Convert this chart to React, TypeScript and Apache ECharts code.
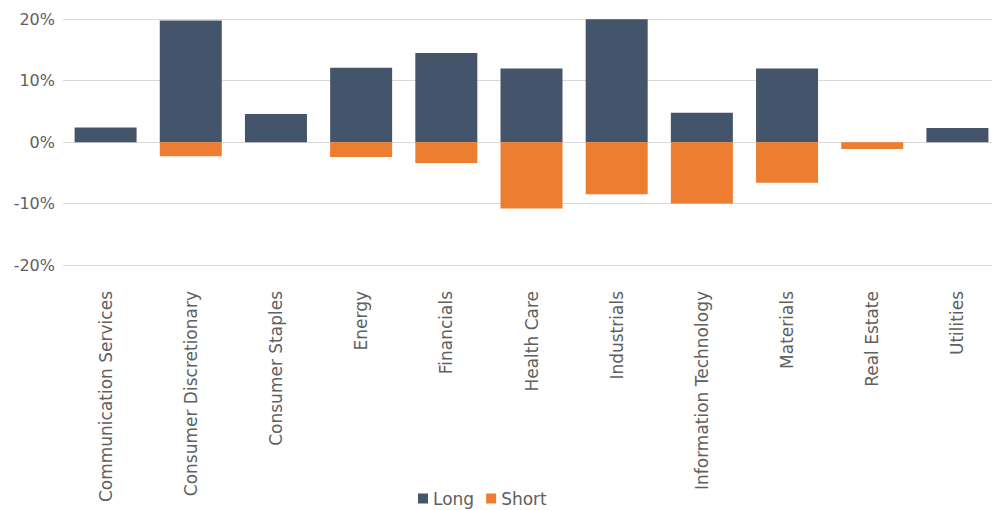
import React, { useEffect, useRef } from "react";
import * as echarts from "echarts";

const categories = [
  "Communication Services",
  "Consumer Discretionary",
  "Consumer Staples",
  "Energy",
  "Financials",
  "Health Care",
  "Industrials",
  "Information Technology",
  "Materials",
  "Real Estate",
  "Utilities",
];
const longValues = [2.4, 19.8, 4.6, 12.1, 14.5, 12.0, 20.0, 4.8, 12.0, 0, 2.3];
const shortValues = [0, -2.3, 0, -2.4, -3.4, -10.8, -8.5, -10.0, -6.6, -1.1, 0];
const yTicks = { min: -20, max: 20, interval: 10 };

const FONT = "DejaVu Sans";
const TEXT = "#606060";

export default function App() {
  const ref = useRef<HTMLDivElement>(null);
  useEffect(() => {
    if (!ref.current) return;
    const chart = echarts.init(ref.current, undefined, { renderer: "svg" });
    chart.setOption({
      animation: false,
      textStyle: { fontFamily: FONT },
      grid: { left: 63, width: 937, top: 19.3, height: 245.7, containLabel: false },
      legend: {
        data: ["Long", "Short"],
        bottom: -2,
        left: 413,
        icon: "rect",
        itemWidth: 10,
        itemHeight: 10,
        itemGap: 12,
        textStyle: { color: TEXT, fontSize: 17, fontFamily: FONT },
      },
      xAxis: {
        type: "category",
        data: categories,
        position: "bottom",
        axisLine: { show: false },
        axisTick: { show: false },
        axisLabel: {
          rotate: 90,
          interval: 0,
          margin: 26,
          color: TEXT,
          fontSize: 17,
          fontFamily: FONT,
        },
      },
      yAxis: {
        type: "value",
        min: yTicks.min,
        max: yTicks.max,
        interval: yTicks.interval,
        axisLine: { show: false },
        axisTick: { show: false },
        axisLabel: {
          formatter: (v: number) => `${v}%`,
          color: TEXT,
          fontSize: 16,
          margin: 8,
          fontFamily: FONT,
        },
        splitLine: { lineStyle: { color: "#d9d9d9", width: 1 } },
      },
      series: [
        {
          name: "Long",
          type: "bar",
          data: longValues,
          barWidth: 62,
          barGap: "-100%",
          itemStyle: { color: "#44546a" },
        },
        {
          name: "Short",
          type: "bar",
          data: shortValues,
          barWidth: 62,
          barGap: "-100%",
          itemStyle: { color: "#ed7d31" },
        },
      ],
    });
    return () => chart.dispose();
  }, []);
  return (
    <div style={{ position: "absolute", left: 0, top: 0, width: 992, height: 510, overflow: "hidden" }}>
      <div ref={ref} style={{ width: 1008, height: 510 }} />
    </div>
  );
}
